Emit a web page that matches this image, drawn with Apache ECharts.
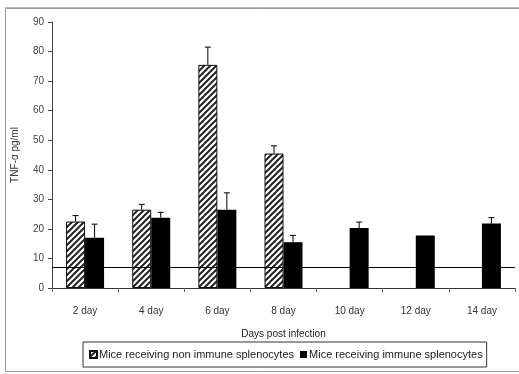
<!DOCTYPE html>
<html>
<head>
<meta charset="utf-8">
<script src="https://cdn.jsdelivr.net/npm/echarts@6/dist/echarts.min.js"></script>
<style>
  html, body { margin: 0; padding: 0; background: #fff; }
  #chart { width: 519px; height: 374px; }
</style>
</head>
<body>
<div id="chart"></div>
<script>
// Days after infection
const categories = ['2 day', '4 day', '6 day', '8 day', '10 day', '12 day', '14 day'];
// TNF-α (pg/ml), mean and upper error (SD)
const nonImmune = [22.5, 26.5, 75.5, 45.5, null, null, null];
const nonImmuneErr = [2.0, 1.8, 6.0, 2.6, null, null, null];
const immune = [17.0, 23.8, 26.5, 15.5, 20.3, 17.8, 21.8];
const immuneErr = [4.6, 1.8, 5.7, 2.3, 2.0, 0, 2.0];
// Detection limit
const baseline = [7];
const yTicks = [0, 10, 20, 30, 40, 50, 60, 70, 80, 90];

const seriesNames = ['Mice receiving non immune splenocytes', 'Mice receiving immune splenocytes'];
const BAR_W = 19;
const FONT = '"Liberation Sans", Arial, sans-serif';

// Diagonal hatching tile
function hatchTile() {
  const s = 6;
  const c = document.createElement('canvas');
  c.width = s; c.height = s;
  const g = c.getContext('2d');
  g.fillStyle = '#fff';
  g.fillRect(0, 0, s, s);
  g.strokeStyle = '#222';
  g.lineWidth = 2;
  g.beginPath();
  g.moveTo(0, s); g.lineTo(s, 0);
  g.moveTo(-s / 2, s / 2); g.lineTo(s / 2, -s / 2);
  g.moveTo(s / 2, s + s / 2); g.lineTo(s + s / 2, s / 2);
  g.stroke();
  return c;
}
const hatch = { image: hatchTile(), repeat: 'repeat' };

function errorSeries(values, errs, offset) {
  return {
    type: 'custom',
    silent: true,
    z: 5,
    data: values.map((v, i) => [i, v, errs[i]]),
    renderItem: function (params, api) {
      const v = api.value(1);
      const e = api.value(2);
      if (v == null || isNaN(v) || !e) return null;
      const base = api.coord([api.value(0), v]);
      const top = api.coord([api.value(0), v + e]);
      const x = base[0] + offset;
      const st = { stroke: '#000', lineWidth: 1 };
      return {
        type: 'group',
        children: [
          { type: 'line', shape: { x1: x, y1: base[1], x2: x, y2: top[1] }, style: st },
          { type: 'line', shape: { x1: x - 3, y1: top[1], x2: x + 3, y2: top[1] }, style: st }
        ]
      };
    }
  };
}

const chart = echarts.init(document.getElementById('chart'), null, { renderer: 'canvas' });
chart.setOption({
  animation: false,
  backgroundColor: '#fff',
  textStyle: { fontFamily: FONT },
  grid: { left: 52, right: 4, top: 22, bottom: 86, containLabel: false },
  graphic: [
    {
      type: 'rect',
      shape: { x: 5.5, y: 8.5, width: 514, height: 363 },
      style: { fill: 'none', stroke: '#999', lineWidth: 1 },
      z: -1
    },
    {
      type: 'line',
      shape: { x1: 5, y1: 7.5, x2: 519, y2: 7.5 },
      style: { stroke: '#bbb', lineWidth: 1 },
      z: -1
    }
  ],
  legend: {
    left: 83,
    top: 342,
    orient: 'horizontal',
    itemWidth: 7,
    itemHeight: 7,
    itemGap: 6,
    padding: [7, 4, 7, 6],
    borderColor: '#333',
    borderWidth: 1,
    textStyle: { fontSize: 11, color: '#222', fontFamily: FONT, padding: [0, 0, 0, -3] },
    data: seriesNames.map(n => ({ name: n, icon: 'rect' }))
  },
  xAxis: {
    type: 'category',
    data: categories,
    boundaryGap: true,
    name: 'Days post infection',
    nameLocation: 'middle',
    nameGap: 41,
    nameTextStyle: { fontSize: 10, color: '#222' },
    axisLine: { lineStyle: { color: '#333', width: 1 } },
    axisTick: { show: true, inside: false, length: 4, lineStyle: { color: '#666' } },
    axisLabel: { fontSize: 10, color: '#333', margin: 18 }
  },
  yAxis: {
    type: 'value',
    min: yTicks[0],
    max: yTicks[yTicks.length - 1],
    interval: yTicks[1] - yTicks[0],
    name: 'TNF-α pg/ml',
    nameLocation: 'middle',
    nameGap: 32,
    nameTextStyle: { fontSize: 10, color: '#333' },
    axisLine: { show: true, lineStyle: { color: '#444', width: 1 } },
    axisTick: { show: true, inside: false, length: 4, lineStyle: { color: '#444' } },
    axisLabel: { fontSize: 10, color: '#444', margin: 8 },
    splitLine: { show: false }
  },
  series: [
    {
      name: seriesNames[0],
      type: 'bar',
      barWidth: BAR_W,
      barGap: '0%',
      data: nonImmune,
      itemStyle: { color: hatch, borderColor: '#111', borderWidth: 1 },
      markLine: {
        silent: true,
        symbol: 'none',
        label: { show: false },
        lineStyle: { color: '#000', width: 1, type: 'solid' },
        data: [{ yAxis: baseline[0] }]
      }
    },
    {
      name: seriesNames[1],
      type: 'bar',
      barWidth: BAR_W,
      barGap: '0%',
      data: immune,
      itemStyle: { color: '#000' }
    },
    errorSeries(nonImmune, nonImmuneErr, -BAR_W / 2),
    errorSeries(immune, immuneErr, BAR_W / 2)
  ]
});
</script>
</body>
</html>
